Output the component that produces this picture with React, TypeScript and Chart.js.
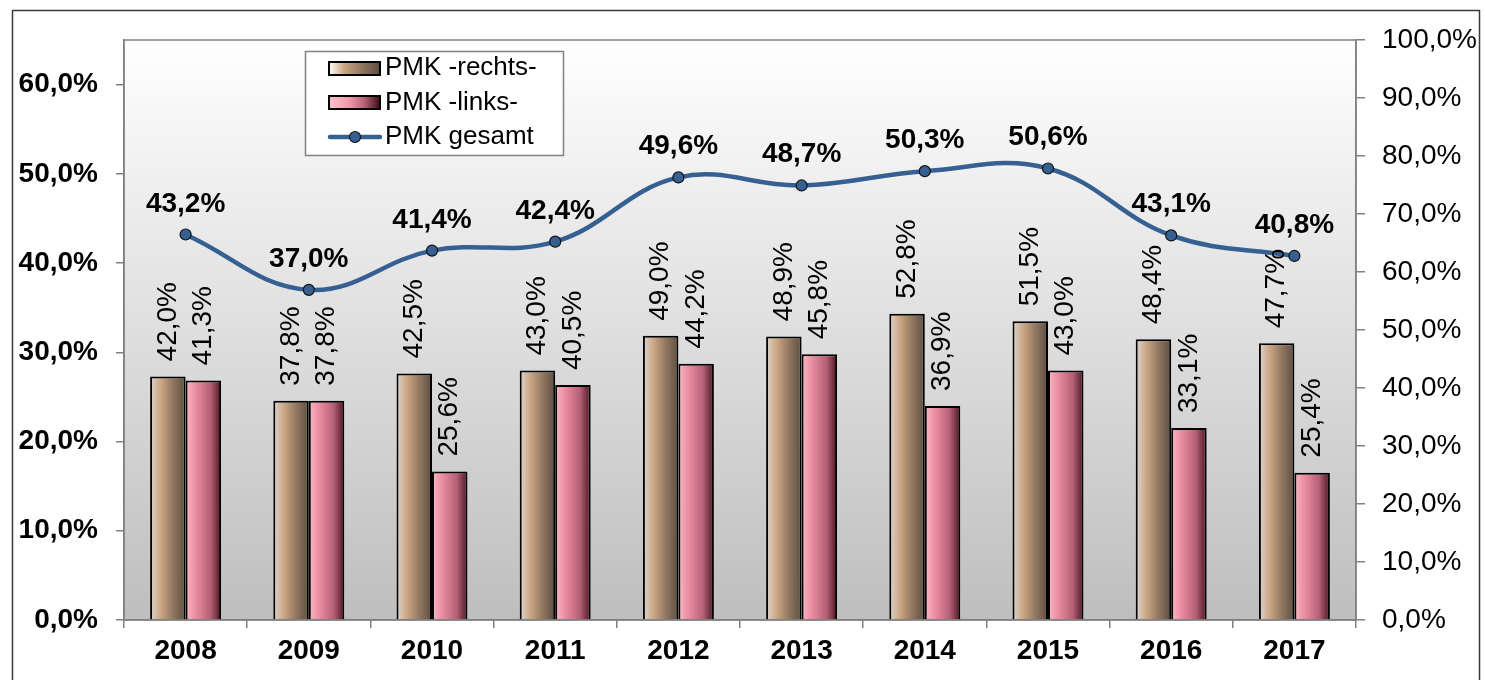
import React, { useEffect, useRef } from "react";
import { Chart, registerables } from "chart.js";

Chart.register(...registerables);

const years = ["2008", "2009", "2010", "2011", "2012", "2013", "2014", "2015", "2016", "2017"];
const rechts = [42.0, 37.8, 42.5, 43.0, 49.0, 48.9, 52.8, 51.5, 48.4, 47.7];
const links = [41.3, 37.8, 25.6, 40.5, 44.2, 45.8, 36.9, 43.0, 33.1, 25.4];
const gesamt = [43.2, 37.0, 41.4, 42.4, 49.6, 48.7, 50.3, 50.6, 43.1, 40.8];
const legendLabels = ["PMK -rechts-", "PMK -links-", "PMK gesamt"];

const FONT = "Arial, 'Liberation Sans', sans-serif";
const LINE_COLOR = "#366092";
const CAT_PCT = 0.576;

const fmt = (v: number) => v.toFixed(1).replace(".", ",") + "%";

function rechtsGrad(ctx: CanvasRenderingContext2D, x0: number, x1: number, legend = false) {
  const g = ctx.createLinearGradient(x0, 0, x1, 0);
  g.addColorStop(0, legend ? "#ffffff" : "#ddd6cf");
  g.addColorStop(0.3, "#cba683");
  g.addColorStop(0.65, "#907660");
  g.addColorStop(1, "#5e4e40");
  return g;
}
function linksGrad(ctx: CanvasRenderingContext2D, x0: number, x1: number) {
  const g = ctx.createLinearGradient(x0, 0, x1, 0);
  g.addColorStop(0, "#f9b7c4");
  g.addColorStop(0.3, "#ea8ba0");
  g.addColorStop(0.7, "#b46075");
  g.addColorStop(1, "#4a1522");
  return g;
}

function barBg(which: number) {
  return (c: any) => {
    const chart = c.chart;
    const xs = chart.scales && chart.scales.x;
    if (!xs || c.type !== "data" || !xs.width) return which === 0 ? "#c8a482" : "#e98a9e";
    const center = xs.getPixelForValue(c.dataIndex);
    const cw = xs.width / years.length;
    const bw = (cw * CAT_PCT) / 2;
    const left = which === 0 ? center - bw : center;
    return which === 0 ? rechtsGrad(chart.ctx, left, left + bw) : linksGrad(chart.ctx, left, left + bw);
  };
}

const decorPlugin = {
  id: "decor",
  beforeDraw(chart: any) {
    const { ctx, chartArea: a } = chart;
    ctx.save();
    ctx.fillStyle = "#ffffff";
    ctx.fillRect(0, 0, chart.width, chart.height);
    const g = ctx.createLinearGradient(0, a.top, 0, a.bottom);
    g.addColorStop(0, "#ffffff");
    g.addColorStop(1, "#bebebe");
    ctx.fillStyle = g;
    ctx.fillRect(a.left, a.top, a.right - a.left, a.bottom - a.top);
    ctx.strokeStyle = "#808080";
    ctx.lineWidth = 1.5;
    ctx.strokeRect(a.left, a.top, a.right - a.left, a.bottom - a.top);
    ctx.strokeStyle = "#3a3a3a";
    ctx.lineWidth = 1.5;
    ctx.strokeRect(12.5, 10.5, 1467, 700);
    ctx.restore();
  },
  afterDatasetsDraw(chart: any) {
    const { ctx } = chart;
    ctx.save();
    // bar labels
    ctx.fillStyle = "#000";
    ctx.font = `28px ${FONT}`;
    ctx.textAlign = "left";
    ctx.textBaseline = "middle";
    [0, 1].forEach((di) => {
      const meta = chart.getDatasetMeta(di);
      const vals = di === 0 ? rechts : links;
      meta.data.forEach((el: any, i: number) => {
        ctx.save();
        ctx.translate(el.x, el.y - 15);
        ctx.rotate(-Math.PI / 2);
        ctx.fillText(fmt(vals[i]), 0, 0);
        ctx.restore();
      });
    });
    // line labels
    ctx.font = `bold 28px ${FONT}`;
    ctx.textAlign = "center";
    ctx.textBaseline = "alphabetic";
    const lm = chart.getDatasetMeta(2);
    lm.data.forEach((el: any, i: number) => {
      ctx.fillText(fmt(gesamt[i]), el.x, el.y - 23);
    });

    // legend
    const bx = 305, by = 51, bw = 258, bh = 104;
    ctx.fillStyle = "#ffffff";
    ctx.fillRect(bx, by, bw, bh);
    ctx.strokeStyle = "#808080";
    ctx.lineWidth = 1.5;
    ctx.strokeRect(bx + 0.5, by + 0.5, bw, bh);
    const rows = [68, 103, 137];
    // swatch 1
    ctx.fillStyle = rechtsGrad(ctx, 329, 380, true);
    ctx.fillRect(329, 62, 51, 13);
    ctx.strokeStyle = "#000";
    ctx.lineWidth = 2;
    ctx.strokeRect(329, 62, 51, 13);
    // swatch 2
    const lg = ctx.createLinearGradient(329, 0, 380, 0);
    lg.addColorStop(0, "#ffc4ce");
    lg.addColorStop(0.4, "#f098aa");
    lg.addColorStop(0.7, "#b46075");
    lg.addColorStop(1, "#3a0a14");
    ctx.fillStyle = lg;
    ctx.fillRect(329, 96, 51, 13);
    ctx.strokeRect(329, 96, 51, 13);
    // line swatch
    ctx.strokeStyle = LINE_COLOR;
    ctx.lineWidth = 4.5;
    ctx.lineCap = "round";
    ctx.beginPath();
    ctx.moveTo(330, rows[2]);
    ctx.lineTo(380, rows[2]);
    ctx.stroke();
    ctx.beginPath();
    ctx.arc(355, rows[2], 5.5, 0, Math.PI * 2);
    ctx.fillStyle = LINE_COLOR;
    ctx.fill();
    ctx.strokeStyle = "#111";
    ctx.lineWidth = 1.2;
    ctx.stroke();
    ctx.fillStyle = "#000";
    ctx.font = `26px ${FONT}`;
    ctx.textAlign = "left";
    ctx.textBaseline = "middle";
    legendLabels.forEach((t, i) => ctx.fillText(t, 385, rows[i]));
    ctx.restore();
  },
};

export default function App() {
  const ref = useRef<HTMLCanvasElement | null>(null);
  useEffect(() => {
    if (!ref.current) return;
    const chart = new Chart(ref.current, {
      type: "bar",
      data: {
        labels: years,
        datasets: [
          {
            type: "bar",
            label: legendLabels[0],
            data: rechts,
            yAxisID: "y1",
            order: 1,
            backgroundColor: barBg(0) as any,
            borderColor: "#000",
            borderWidth: 2,
            categoryPercentage: CAT_PCT,
            barPercentage: 1,
          },
          {
            type: "bar",
            label: legendLabels[1],
            data: links,
            yAxisID: "y1",
            order: 2,
            backgroundColor: barBg(1) as any,
            borderColor: "#000",
            borderWidth: 2,
            categoryPercentage: CAT_PCT,
            barPercentage: 1,
          },
          {
            type: "line",
            label: legendLabels[2],
            data: gesamt,
            yAxisID: "y",
            order: 0,
            borderColor: LINE_COLOR,
            borderWidth: 4.5,
            tension: 0.4,
            pointRadius: 5.5,
            pointBackgroundColor: LINE_COLOR,
            pointBorderColor: "#111",
            pointBorderWidth: 1.2,
            clip: false as any,
          } as any,
        ],
      },
      options: {
        responsive: false,
        animation: false,
        layout: { padding: { top: 40, left: 0, right: 0, bottom: 0 } },
        plugins: { legend: { display: false }, tooltip: { enabled: false } },
        scales: {
          x: {
            offset: true,
            grid: { display: true, offset: true, drawOnChartArea: false, drawTicks: true, tickLength: 8, color: "#808080", lineWidth: 1.5 },
            border: { display: true, color: "#808080", width: 1.5 },
            ticks: { color: "#000", font: { family: FONT, size: 28, weight: "bold" }, padding: 6, maxRotation: 0 },
            afterFit: (s: any) => { s.height = 60; },
          },
          y: {
            position: "left",
            min: 0,
            max: 65,
            ticks: { stepSize: 10, color: "#000", font: { family: FONT, size: 28, weight: "bold" }, padding: 18, callback: (v: any) => fmt(Number(v)) },
            afterBuildTicks: (s: any) => { s.ticks = s.ticks.filter((t: any) => t.value <= 60.001); },
            grid: { drawOnChartArea: false, tickLength: 8, color: "#808080", lineWidth: 1.5 },
            border: { display: true, color: "#808080", width: 1.5 },
            afterFit: (s: any) => { s.width = 124; },
          },
          y1: {
            position: "right",
            min: 0,
            max: 100,
            ticks: { stepSize: 10, color: "#000", font: { family: FONT, size: 28 }, padding: 17, callback: (v: any) => fmt(Number(v)) },
            grid: { drawOnChartArea: false, tickLength: 9, color: "#808080", lineWidth: 1.5 },
            border: { display: true, color: "#808080", width: 1.5 },
            afterFit: (s: any) => { s.width = 129; },
          },
        },
      },
      plugins: [decorPlugin],
    });
    return () => chart.destroy();
  }, []);
  return (
    <div style={{ position: "absolute", left: 0, top: 0, width: 1485, height: 680 }}>
      <canvas ref={ref} width={1485} height={680} style={{ display: "block" }} />
    </div>
  );
}
